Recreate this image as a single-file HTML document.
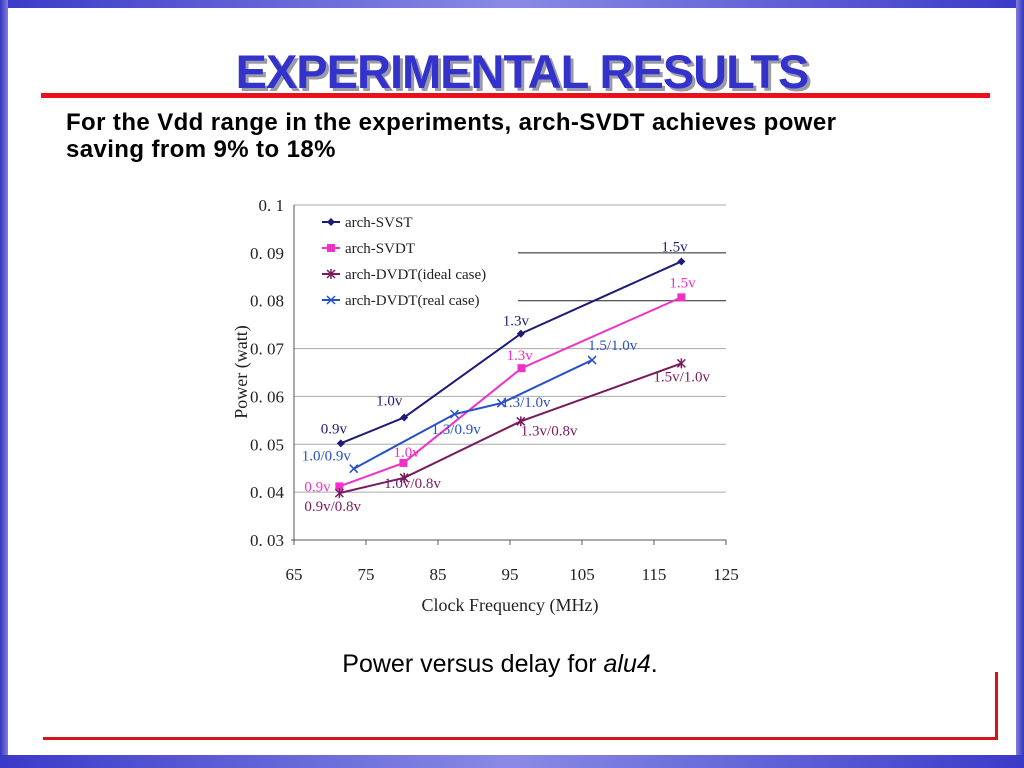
<!DOCTYPE html>
<html><head><meta charset="utf-8">
<style>
body{margin:0;width:1024px;height:768px;overflow:hidden;background:#fff;font-family:"Liberation Sans",sans-serif;position:relative}
.bar{position:absolute;background:linear-gradient(90deg,#3a3ac8,#8a8ae6 50%,#3a3ac8)}
</style></head><body>
<div class="bar" style="left:0;top:0;width:1024px;height:8px"></div>
<div class="bar" style="left:0;top:0;width:8px;height:768px;background:linear-gradient(90deg,#3434c0,#8080e0)"></div>
<div class="bar" style="left:1016px;top:0;width:8px;height:768px;background:linear-gradient(90deg,#8080e0,#3434c0)"></div>
<div class="bar" style="left:0;top:755px;width:1024px;height:13px"></div>
<div style="position:absolute;left:0;width:1044px;top:44px;text-align:center;font-size:47px;font-weight:bold;color:#3333cc;text-shadow:3px 3px 0 #9a9aa8;letter-spacing:-1px">EXPERIMENTAL RESULTS</div>
<div style="position:absolute;left:41px;top:93px;width:949px;height:5px;background:#e8101a"></div>
<div style="position:absolute;left:66px;top:109px;font-size:24px;font-weight:bold;line-height:27px;letter-spacing:0.4px;color:#000;white-space:nowrap">For the Vdd range in the experiments, arch-SVDT achieves power<br>saving from 9% to 18%</div>
<svg width="1024" height="768" style="position:absolute;left:0;top:0" id="chart" font-family="Liberation Serif, serif"></svg>
<div style="position:absolute;left:0;width:1000px;top:650px;text-align:center;font-size:25px;color:#000">Power versus delay for <i>alu4</i>.</div>
<div style="position:absolute;left:43px;top:737px;width:955px;height:3px;background:#d4141a"></div>
<div style="position:absolute;left:995px;top:672px;width:3px;height:68px;background:#d4141a"></div>
<script>
const xTicks=[65,75,85,95,105,115,125];
const yTicks=[0.03,0.04,0.05,0.06,0.07,0.08,0.09,0.1];
const yTickLabels=["0. 03","0. 04","0. 05","0. 06","0. 07","0. 08","0. 09","0. 1"];
const svstX=[71.5,80.3,96.5,118.8], svstY=[0.0502,0.0556,0.0731,0.0882];
const svdtX=[71.3,80.2,96.6,118.8], svdtY=[0.0412,0.0461,0.0659,0.0807];
const idealX=[71.3,80.3,96.5,118.8], idealY=[0.0398,0.0430,0.0548,0.0669];
const realX=[73.3,87.3,93.8,106.4], realY=[0.0449,0.0563,0.0586,0.0676];
const svstLabels=["0.9v","1.0v","1.3v","1.5v"];
const svdtLabels=["0.9v","1.0v","1.3v","1.5v"];
const idealLabels=["0.9v/0.8v","1.0v/0.8v","1.3v/0.8v","1.5v/1.0v"];
const realLabels=["1.0/0.9v","1.3/0.9v","1.3/1.0v","1.5/1.0v"];
const X=v=>294+(v-65)*432/60;
const Y=v=>540-(v-0.03)*335/0.07;
const svg=document.getElementById('chart');
const NS='http://www.w3.org/2000/svg';
function mk(t,a,p){const e=document.createElementNS(NS,t);for(const k in a)e.setAttribute(k,a[k]);(p||svg).appendChild(e);return e;}
mk('rect',{x:228,y:188,width:530,height:430,fill:'#fff'});
yTicks.forEach((v,i)=>{
 if(v>0.03){const g=mk('line',{x1:(v>=0.08&&v<0.1)?518:294,x2:726,y1:Y(v),y2:Y(v),stroke:(v>=0.08&&v<0.1)?'#222':'#aaa','stroke-width':1});
 
 }
 const t=mk('text',{x:284,y:Y(v)+6,'text-anchor':'end','font-size':17,fill:'#222'});t.textContent=yTickLabels[i];
 
 
});
mk('line',{x1:294,x2:294,y1:205,y2:543,stroke:'#555'});
mk('line',{x1:291,x2:726,y1:540,y2:540,stroke:'#555'});
xTicks.forEach(v=>{
 mk('line',{x1:X(v),x2:X(v),y1:540,y2:545,stroke:'#555'});
 const t=mk('text',{x:X(v),y:580,'text-anchor':'middle','font-size':17,fill:'#222'});t.textContent=v;
 
 
});
const xt=mk('text',{x:510,y:611,'text-anchor':'middle','font-size':18,fill:'#222'});xt.textContent='Clock Frequency (MHz)';


const yt=mk('text',{x:0,y:0,'text-anchor':'middle','font-size':18,fill:'#222',transform:'translate(247,372) rotate(-90)'});yt.textContent='Power (watt)';


function marker(kind,x,y,c){
 if(kind==='d')mk('polygon',{points:`${x},${y-4} ${x+4},${y} ${x},${y+4} ${x-4},${y}`,fill:c});
 else if(kind==='s')mk('rect',{x:x-4,y:y-4,width:8,height:8,fill:c});
 else if(kind==='x'){mk('path',{d:`M${x-4},${y-4}L${x+4},${y+4}M${x-4},${y+4}L${x+4},${y-4}`,stroke:c,'stroke-width':1.5});}
 else {mk('path',{d:`M${x-4},${y-4}L${x+4},${y+4}M${x-4},${y+4}L${x+4},${y-4}M${x},${y-5}L${x},${y+5}`,stroke:c,'stroke-width':1.5});}
}
const series=[
 {name:'series-svst',xs:svstX,ys:svstY,c:'#1c1c78',m:'d',labels:svstLabels,off:[[-20,-10],[-28,-12],[-18,-8],[-20,-10]]},
 {name:'series-svdt',xs:svdtX,ys:svdtY,c:'#f030c8',m:'s',labels:svdtLabels,off:[[-35,5],[-10,-6],[-15,-8],[-12,-10]]},
 {name:'series-dvdt-ideal',xs:idealX,ys:idealY,c:'#7a1a5e',m:'*',labels:idealLabels,off:[[-35,18],[-20,10],[0,14],[-28,18]]},
 {name:'series-dvdt-real',xs:realX,ys:realY,c:'#2850c8',m:'x',labels:realLabels,off:[[-52,-8],[-23,20],[0,4],[-4,-10]]}
];
series.forEach(s=>{
 const pts=s.xs.map((x,i)=>X(x)+','+Y(s.ys[i])).join(' ');
 const pl=mk('polyline',{points:pts,fill:'none',stroke:s.c,'stroke-width':2});
 
 
 s.xs.forEach((x,i)=>{marker(s.m,X(x),Y(s.ys[i]),s.c);
  const t=mk('text',{x:X(x)+s.off[i][0],y:Y(s.ys[i])+s.off[i][1],'font-size':15,fill:s.c});t.textContent=s.labels[i];
  
  });
});
const leg=[['arch-SVST','#1c1c78','d'],['arch-SVDT','#f030c8','s'],['arch-DVDT(ideal case)','#7a1a5e','*'],['arch-DVDT(real case)','#2850c8','x']];
leg.forEach((l,i)=>{const y=222+i*26;
 mk('line',{x1:322,x2:340,y1:y,y2:y,stroke:l[1],'stroke-width':2});marker(l[2],331,y,l[1]);
 const t=mk('text',{x:345,y:y+5,'font-size':15,fill:'#222'});t.textContent=l[0];
 
 });
</script>
</body></html>
